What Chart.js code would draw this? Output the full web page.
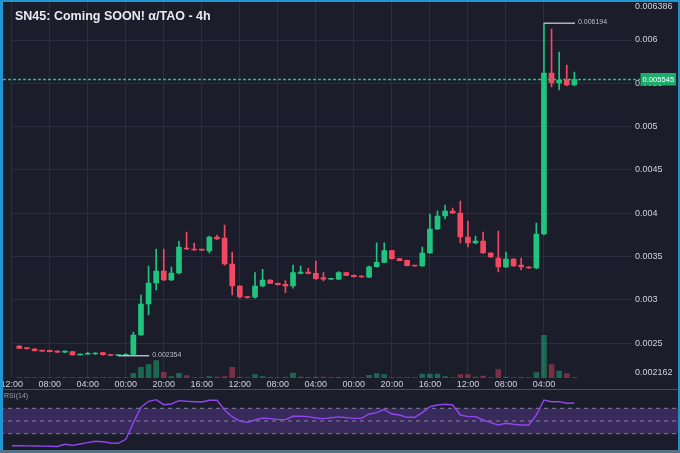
<!DOCTYPE html>
<html>
<head>
<meta charset="utf-8">
<script src="https://cdn.jsdelivr.net/npm/chart.js@4.4.1/dist/chart.umd.min.js"></script>
<style>
  html, body { margin: 0; padding: 0; background: #1b1d2a; }
  #wrap { position: relative; width: 680px; height: 453px; overflow: hidden; background: #1b1d2a; font-family: "Liberation Sans", Arial, sans-serif; }
  #main { position: absolute; left: 0; top: 0; }
  #rsi { position: absolute; left: 0; top: 390px; }
  .title { position: absolute; left: 15px; top: 10px; color: #e9ebf0; font-weight: bold; font-size: 12.5px; line-height: 12.5px; white-space: nowrap; }
  .rsiLabel { position: absolute; left: 4px; top: 392px; color: #9a9eaa; font-size: 7px; }
  .sep { position: absolute; left: 0; top: 389px; width: 680px; height: 1px; background: #4a4e5c; }
  .bTop { position: absolute; left: 0; top: 0; width: 680px; height: 2px; background: #2196d3; }
  .bLeft { position: absolute; left: 0; top: 0; width: 3px; height: 453px; background: #2196d3; }
  .bRight { position: absolute; right: 0; top: 0; width: 2px; height: 453px; background: #2190c8; }
  .bBottom { position: absolute; left: 0; bottom: 0; width: 680px; height: 3px; background: #557487; }
</style>
</head>
<body>
<div id="wrap">
  <canvas id="main" width="680" height="389"></canvas>
  <canvas id="rsi" width="680" height="59"></canvas>
  <div class="sep"></div>
  <div class="title">SN45: Coming SOON! α/TAO - 4h</div>
  <div class="rsiLabel">RSI(14)</div>
  <div class="bTop"></div><div class="bLeft"></div><div class="bRight"></div><div class="bBottom"></div>
</div>
<script>
// 4h candles
const opens = [
  0.002467, 0.002440, 0.002432, 0.002412, 0.002417, 0.002409, 0.002394, 0.002401, 0.002363, 0.002371,
  0.002374, 0.002390, 0.002366, 0.002357, 0.002358, 0.002368, 0.002594, 0.002952, 0.003194, 0.003333,
  0.003229, 0.003310, 0.003598, 0.003587, 0.003575, 0.003565, 0.003725, 0.003714, 0.003413, 0.003159,
  0.003035, 0.003030, 0.003159, 0.003229, 0.003190, 0.003179, 0.003159, 0.003306, 0.003320, 0.003306,
  0.003256, 0.003237, 0.003237, 0.003313, 0.003283, 0.003275, 0.003260, 0.003382, 0.003433, 0.003567,
  0.003475, 0.003456, 0.003394, 0.003390, 0.003540, 0.003818, 0.003968, 0.004025, 0.004002, 0.003725,
  0.003656, 0.003679, 0.003540, 0.003483, 0.003379, 0.003471, 0.003402, 0.003379, 0.003367, 0.003760,
  0.005619, 0.005503, 0.005538, 0.005480
];
const highs = [
  0.002474, 0.002444, 0.002436, 0.002416, 0.002420, 0.002412, 0.002412, 0.002405, 0.002376, 0.002397,
  0.002390, 0.002394, 0.002368, 0.002362, 0.002380, 0.002628, 0.003056, 0.003390, 0.003587, 0.003587,
  0.003379, 0.003679, 0.003783, 0.003655, 0.003580, 0.003737, 0.003748, 0.003864, 0.003552, 0.003165,
  0.003040, 0.003313, 0.003352, 0.003235, 0.003195, 0.003221, 0.003402, 0.003390, 0.003364, 0.003448,
  0.003313, 0.003244, 0.003325, 0.003318, 0.003288, 0.003280, 0.003390, 0.003659, 0.003659, 0.003575,
  0.003480, 0.003460, 0.003398, 0.003610, 0.003991, 0.004026, 0.004095, 0.004060, 0.004141, 0.003910,
  0.003737, 0.003783, 0.003545, 0.003795, 0.003552, 0.003476, 0.003483, 0.003383, 0.003887, 0.006194,
  0.006127, 0.005861, 0.005711, 0.005630
];
const lows = [
  0.002436, 0.002430, 0.002408, 0.002404, 0.002398, 0.002390, 0.002390, 0.002360, 0.002360, 0.002368,
  0.002370, 0.002362, 0.002355, 0.002354, 0.002355, 0.002360, 0.002588, 0.002825, 0.003113, 0.003220,
  0.003220, 0.003300, 0.003580, 0.003570, 0.003568, 0.003540, 0.003698, 0.003400, 0.003055, 0.003020,
  0.003020, 0.003020, 0.003150, 0.003185, 0.003170, 0.003082, 0.003133, 0.003300, 0.003300, 0.003235,
  0.003217, 0.003232, 0.003232, 0.003278, 0.003262, 0.003258, 0.003255, 0.003378, 0.003428, 0.003470,
  0.003448, 0.003390, 0.003386, 0.003385, 0.003535, 0.003810, 0.003933, 0.003995, 0.003656, 0.003610,
  0.003645, 0.003535, 0.003490, 0.003321, 0.003370, 0.003385, 0.003344, 0.003362, 0.003360, 0.003750,
  0.005457, 0.005423, 0.005470, 0.005470
];
const closes = [
  0.002440, 0.002436, 0.002412, 0.002408, 0.002401, 0.002394, 0.002409, 0.002363, 0.002371, 0.002383,
  0.002386, 0.002366, 0.002357, 0.002359, 0.002368, 0.002594, 0.002952, 0.003194, 0.003333, 0.003229,
  0.003310, 0.003610, 0.003587, 0.003575, 0.003573, 0.003725, 0.003702, 0.003413, 0.003159, 0.003032,
  0.003025, 0.003159, 0.003229, 0.003190, 0.003174, 0.003159, 0.003313, 0.003320, 0.003306, 0.003244,
  0.003237, 0.003240, 0.003313, 0.003283, 0.003267, 0.003263, 0.003382, 0.003433, 0.003567, 0.003475,
  0.003452, 0.003394, 0.003390, 0.003540, 0.003818, 0.003968, 0.004025, 0.004002, 0.003725, 0.003656,
  0.003679, 0.003540, 0.003494, 0.003379, 0.003471, 0.003390, 0.003379, 0.003367, 0.003760, 0.005619,
  0.005503, 0.005538, 0.005480, 0.005545
];
const volumes = [
  0.4, 0.4, 0.4, 0.4, 0.4, 0.4, 0.4, 0.4, 0.4, 0.4,
  0.4, 0.4, 0.4, 0.4, 0.5, 4.7, 10.7, 13.3, 17.3, 5.7,
  1.3, 4.7, 2.3, 0.5, 0.5, 1.5, 0.8, 1.5, 10.7, 0.8,
  0.5, 3.3, 1.5, 0.6, 0.5, 1.0, 5.0, 0.8, 0.6, 1.0,
  1.0, 0.4, 0.6, 0.4, 0.4, 0.4, 2.7, 4.3, 3.3, 0.5,
  0.4, 0.4, 0.4, 4.0, 4.0, 4.0, 1.5, 0.5, 3.3, 3.3,
  1.0, 2.0, 0.5, 8.3, 1.0, 0.4, 0.7, 0.4, 5.3, 42.7,
  13.3, 7.0, 4.3, 0.5
];
// RSI(14): first value belongs to the bar before the first drawn candle
const rsiValues = [
  11.1, 11.0, 10.8, 10.6, 10.4, 10.2, 9.8, 13.3, 11.7, 13.8, 16.0,
  18.0, 17.4, 15.4, 14.9, 21.2, 47.4, 71.6, 81.0, 83.6, 75.7,
  76.8, 82.0, 81.0, 80.4, 79.9, 82.6, 82.6, 67.3, 56.8, 50.0,
  47.9, 51.6, 54.7, 53.7, 52.6, 52.1, 57.4, 57.4, 56.8, 54.7,
  53.7, 55.0, 56.5, 55.3, 54.2, 54.2, 61.0, 63.1, 68.4, 61.0,
  59.4, 55.8, 55.8, 63.1, 72.5, 75.2, 76.3, 75.2, 59.4, 56.8,
  56.8, 51.6, 47.4, 43.7, 46.4, 44.8, 43.7, 43.7, 59.4, 83.1,
  80.4, 80.4, 77.9, 78.4
];
const tickIdx = [-1, 4, 9, 14, 19, 24, 29, 34, 39, 44, 49, 54, 59, 64, 69];
const tickLabels = ['12:00', '08:00', '04:00', '00:00', '20:00', '16:00', '12:00', '08:00', '04:00', '00:00', '20:00', '16:00', '12:00', '08:00', '04:00'];
const priceTicks = [0.002162, 0.0025, 0.003, 0.0035, 0.004, 0.0045, 0.005, 0.0055, 0.006, 0.006386];
const edgeTicks = [0.002162, 0.006386];

const UP = '#20c47f';
const DOWN = '#f24862';
const UP_VOL = 'rgba(32,196,127,0.45)';
const DOWN_VOL = 'rgba(242,72,98,0.45)';
const GRID = '#2a2d3b';
const TXT = '#cfd2da';
const FONT = { family: 'Liberation Sans', size: 9 };

const X_MIN = -1, X_MAX = 80.58;
const isUp = closes.map((c, i) => c >= opens[i]);

// keep the plot box fixed: no extra room for half labels
const noPad = s => { s.paddingTop = 0; s.paddingBottom = 0; s.paddingLeft = 0; s.paddingRight = 0; };

const overlays = {
  id: 'overlays',
  afterDraw(chart) {
    const ctx = chart.ctx;
    const x = chart.scales.x, y = chart.scales.y;
    const last = closes[closes.length - 1];
    const ly = Math.round(y.getPixelForValue(last)) + 0.5;
    ctx.save();
    // last price line
    ctx.strokeStyle = '#1fbf7c';
    ctx.lineWidth = 1.4;
    ctx.setLineDash([3, 2]);
    ctx.beginPath();
    ctx.moveTo(3, ly); ctx.lineTo(640, ly);
    ctx.stroke();
    ctx.setLineDash([]);
    // high / low markers
    const hi = Math.max(...highs), lo = Math.min(...lows);
    const hiI = highs.indexOf(hi), loI = lows.indexOf(lo);
    ctx.strokeStyle = '#c9cbd1';
    ctx.lineWidth = 1.3;
    ctx.font = '7px "Liberation Sans"';
    ctx.fillStyle = '#b9bcc4';
    ctx.textBaseline = 'middle';
    [[hiI, hi], [loI, lo]].forEach(([i, v]) => {
      const px = x.getPixelForValue(i), py = y.getPixelForValue(v);
      ctx.beginPath(); ctx.moveTo(px, py); ctx.lineTo(px + 31, py); ctx.stroke();
      ctx.fillText(v.toFixed(6), px + 34, py - 1);
    });
    // last price tag
    ctx.fillStyle = '#1dac6b';
    ctx.fillRect(640.5, ly - 6.5, 35.5, 12.5);
    ctx.fillStyle = '#ffffff';
    ctx.font = '7.6px "Liberation Sans"';
    ctx.textAlign = 'left';
    ctx.fillText(last.toFixed(6), 642.5, ly);
    ctx.restore();
  }
};

new Chart(document.getElementById('main'), {
  type: 'bar',
  data: {
    datasets: [
      {
        label: 'body',
        data: opens.map((o, i) => ({ x: i, y: [o, closes[i]] })),
        backgroundColor: isUp.map(u => u ? UP : DOWN),
        barThickness: 5,
        minBarLength: 1,
        grouped: false,
        order: 1
      },
      {
        label: 'wick',
        data: lows.map((l, i) => ({ x: i, y: [l, highs[i]] })),
        backgroundColor: isUp.map(u => u ? UP : DOWN),
        barThickness: 1,
        grouped: false,
        order: 2
      },
      {
        label: 'volume',
        yAxisID: 'vol',
        data: volumes.map((v, i) => ({ x: i, y: v })),
        backgroundColor: isUp.map(u => u ? UP_VOL : DOWN_VOL),
        barThickness: 5,
        grouped: false,
        order: 3
      }
    ]
  },
  options: {
    responsive: false,
    animation: false,
    devicePixelRatio: 1,
    layout: { padding: { left: 11.7, right: 0, top: 2, bottom: 0 } },
    plugins: { legend: { display: false }, tooltip: { enabled: false } },
    scales: {
      x: {
        type: 'linear',
        min: X_MIN,
        max: X_MAX,
        offset: false,
        grid: { color: GRID, offset: false, drawTicks: false },
        border: { display: false },
        afterBuildTicks: s => { s.ticks = tickIdx.map(v => ({ value: v })); },
        afterFit: s => { s.height = 11; noPad(s); },
        ticks: {
          autoSkip: false,
          maxRotation: 0,
          padding: 1,
          color: TXT,
          font: FONT,
          callback: v => tickLabels[tickIdx.indexOf(v)]
        }
      },
      y: {
        position: 'right',
        min: 0.0020971,
        max: 0.0064388,
        grid: {
          drawTicks: false,
          color: c => (c.tick && edgeTicks.includes(c.tick.value)) ? 'rgba(0,0,0,0)' : GRID
        },
        border: { display: false },
        afterBuildTicks: s => { s.ticks = priceTicks.map(v => ({ value: v })); },
        afterFit: s => { s.width = 48; noPad(s); },
        ticks: {
          padding: 3,
          color: TXT,
          font: FONT,
          callback: v => String(v)
        }
      },
      vol: {
        display: false,
        min: 0,
        max: 376
      }
    }
  },
  plugins: [overlays]
});

const rsiBand = {
  id: 'rsiBand',
  beforeDatasetsDraw(chart) {
    const ctx = chart.ctx, y = chart.scales.y;
    const y70 = y.getPixelForValue(70), y30 = y.getPixelForValue(30), y50 = y.getPixelForValue(50);
    ctx.save();
    ctx.fillStyle = 'rgba(120,70,200,0.32)';
    ctx.fillRect(0, y70, chart.width, y30 - y70);
    ctx.strokeStyle = 'rgba(160,160,175,0.75)';
    ctx.lineWidth = 1;
    ctx.setLineDash([4, 4]);
    [y70, y50, y30].forEach(py => {
      ctx.beginPath(); ctx.moveTo(0, py); ctx.lineTo(chart.width, py); ctx.stroke();
    });
    ctx.restore();
  }
};

new Chart(document.getElementById('rsi'), {
  type: 'line',
  data: {
    datasets: [{
      label: 'RSI(14)',
      data: rsiValues.map((v, i) => ({ x: i - 1, y: v })),
      borderColor: '#9146f0',
      borderWidth: 1.4,
      pointRadius: 0,
      tension: 0
    }]
  },
  options: {
    responsive: false,
    animation: false,
    devicePixelRatio: 1,
    layout: { padding: { left: 11.7, right: 48, top: 0, bottom: 0 } },
    plugins: { legend: { display: false }, tooltip: { enabled: false } },
    scales: {
      x: { type: 'linear', display: false, min: X_MIN, max: X_MAX },
      y: { display: false, min: 5.9, max: 98.8 }
    }
  },
  plugins: [rsiBand]
});
</script>
</body>
</html>
